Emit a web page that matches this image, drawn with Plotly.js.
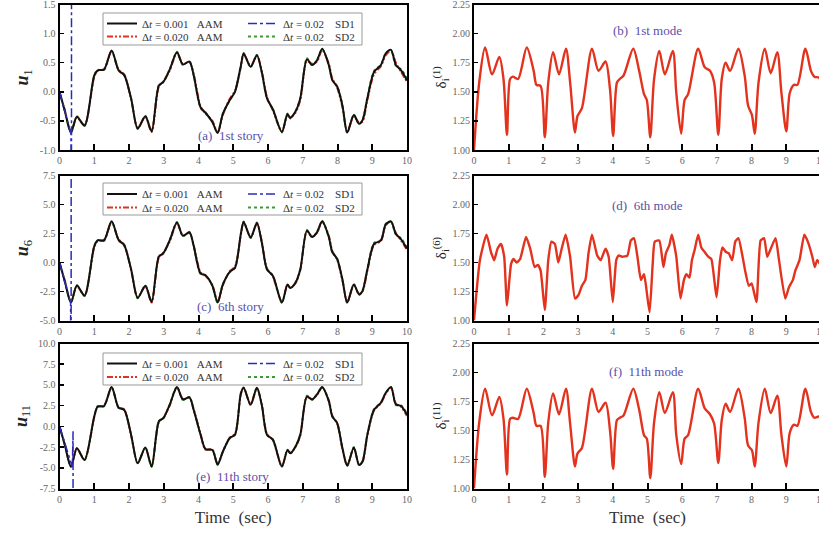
<!DOCTYPE html>
<html><head><meta charset="utf-8">
<script src="https://cdn.plot.ly/plotly-3.0.1.min.js"></script>
<style>html,body{margin:0;padding:0;overflow:hidden;background:#fff}</style>
</head><body><div id="chart" style="width:830px;height:537px"></div>
<script>
// ---------- data ----------
const timeStory = [0,0.15,0.33,0.5,0.72,1.0,1.1,1.28,1.5,1.7,
 1.86,2.06,2.25,2.47,2.65,2.86,2.99,3.17,3.38,3.55,
 3.74,3.86,4.06,4.2,4.4,4.55,4.7,4.9,5.05,5.22,
 5.3,5.5,5.68,5.82,5.97,6.14,6.4,6.56,6.64,6.79,
 6.93,7.12,7.27,7.41,7.56,7.75,7.85,7.99,8.14,8.28,
 8.47,8.62,8.72,8.86,9.05,9.25,9.39,9.54,9.68,9.83,10.0];

const u1_aam001 = [0.0,-0.32,-0.70,-0.43,-0.58,0.28,0.37,0.38,0.71,0.37,
 0.29,-0.11,-0.63,-0.42,-0.68,0.11,0.17,0.38,0.68,0.47,
 0.52,0.29,-0.27,-0.36,-0.52,-0.71,-0.38,-0.14,0.0,0.45,
 0.66,0.43,0.63,0.34,-0.11,-0.30,-0.69,-0.38,-0.45,-0.34,
 -0.11,0.56,0.46,0.54,0.74,0.46,0.20,0.09,-0.23,-0.70,
 -0.40,-0.55,-0.49,-0.11,0.34,0.46,0.66,0.72,0.46,0.37,0.20];
const u1_aam020 = [0.0,-0.31,-0.69,-0.44,-0.57,0.26,0.36,0.39,0.70,0.38,
 0.30,-0.13,-0.62,-0.43,-0.69,0.09,0.18,0.36,0.67,0.48,
 0.51,0.31,-0.25,-0.37,-0.50,-0.70,-0.40,-0.12,0.02,0.43,
 0.65,0.44,0.62,0.36,-0.09,-0.32,-0.68,-0.40,-0.44,-0.36,
 -0.14,0.53,0.48,0.52,0.72,0.48,0.23,0.07,-0.26,-0.68,
 -0.42,-0.53,-0.51,-0.14,0.30,0.44,0.63,0.70,0.50,0.34,0.17];
const u1_sd2 = [0.0,-0.33,-0.70,-0.42,-0.59,0.27,0.38,0.37,0.70,0.36,
 0.28,-0.12,-0.64,-0.41,-0.67,0.12,0.16,0.39,0.69,0.46,
 0.53,0.28,-0.28,-0.35,-0.53,-0.70,-0.37,-0.15,0.01,0.47,
 0.67,0.42,0.64,0.33,-0.12,-0.29,-0.70,-0.37,-0.46,-0.33,
 -0.10,0.58,0.45,0.55,0.73,0.45,0.21,0.10,-0.21,-0.71,
 -0.39,-0.56,-0.48,-0.09,0.36,0.47,0.67,0.70,0.44,0.39,0.24];
const t1_sd1 = [0,0.11,0.22,0.33,0.34,0.35];
const u1_sd1 = [0,-0.24,-0.48,-0.72,-50,50];

const u6_aam001 = [0.0,-1.6,-3.45,-1.98,-2.85,1.4,1.9,1.9,3.55,1.95,
 1.5,-0.58,-3.05,-2.0,-3.4,0.52,0.8,1.9,3.45,2.3,
 2.6,1.45,-0.95,-1.1,-2.0,-3.45,-1.9,-0.8,-0.45,2.5,
 3.5,2.15,3.4,1.75,-0.58,-1.15,-3.45,-1.9,-2.2,-1.75,
 -0.58,2.75,2.2,2.6,3.55,2.2,0.9,0.3,-1.45,-3.45,
 -1.9,-2.75,-2.45,-0.6,1.6,1.9,3.3,3.55,2.45,2.0,1.2];
const u6_aam020 = [0.0,-1.55,-3.4,-2.05,-2.8,1.3,1.85,1.95,3.5,2.0,
 1.55,-0.65,-3.0,-2.05,-3.45,0.45,0.85,1.8,3.4,2.35,
 2.55,1.5,-0.85,-1.15,-1.95,-3.4,-1.95,-0.75,-0.35,2.4,
 3.45,2.2,3.35,1.85,-0.5,-1.2,-3.4,-1.95,-2.15,-1.8,
 -0.65,2.65,2.25,2.55,3.5,2.3,1.0,0.25,-1.55,-3.4,
 -1.95,-2.7,-2.5,-0.7,1.5,1.85,3.2,3.5,2.55,1.9,1.05];
const u6_sd2 = [0.0,-1.65,-3.45,-1.95,-2.9,1.45,1.95,1.85,3.5,1.9,
 1.45,-0.55,-3.1,-1.95,-3.35,0.55,0.75,1.95,3.5,2.25,
 2.65,1.4,-1.0,-1.05,-2.05,-3.5,-1.85,-0.85,-0.5,2.55,
 3.55,2.1,3.45,1.7,-0.6,-1.1,-3.5,-1.85,-2.25,-1.7,
 -0.55,2.8,2.15,2.65,3.6,2.15,0.85,0.35,-1.4,-3.5,
 -1.85,-2.8,-2.4,-0.5,1.7,1.95,3.35,3.5,2.4,2.1,1.3];
const t6_sd1 = [0,0.11,0.22,0.32,0.33,0.34];
const u6_sd1 = [0,-1.2,-2.4,-3.45,-200,200];

const u11_aam001 = [0.0,-2.2,-4.86,-2.65,-4.05,1.2,2.4,2.45,4.75,2.25,
 2.0,-1.0,-4.45,-2.55,-4.85,0.6,1.0,2.6,4.75,3.25,
 3.5,2.0,-1.0,-2.75,-2.85,-4.6,-3.05,-1.4,-1.0,4.0,
 4.65,2.6,4.65,2.6,-1.0,-1.6,-4.85,-2.85,-3.25,-2.45,
 -1.0,3.6,3.25,3.85,4.75,3.05,1.2,0.4,-2.6,-4.75,
 -2.55,-4.65,-4.25,-1.0,2.0,2.85,4.05,4.75,2.65,2.45,1.4];
const u11_aam020 = [0.0,-2.15,-4.8,-2.7,-4.0,1.1,2.35,2.5,4.7,2.3,
 2.05,-1.1,-4.4,-2.6,-4.8,0.5,1.05,2.5,4.7,3.3,
 3.45,2.1,-0.9,-2.8,-2.8,-4.55,-3.1,-1.35,-0.9,3.9,
 4.6,2.7,4.6,2.7,-0.9,-1.65,-4.8,-2.9,-3.2,-2.5,
 -1.1,3.5,3.3,3.8,4.7,3.15,1.3,0.35,-2.7,-4.7,
 -2.6,-4.6,-4.3,-1.1,1.9,2.8,3.95,4.7,2.75,2.35,1.25];
const u11_sd2 = [0.0,-2.25,-4.9,-2.6,-4.1,1.25,2.45,2.4,4.7,2.2,
 1.95,-0.95,-4.5,-2.5,-4.9,0.65,0.95,2.65,4.8,3.2,
 3.55,1.95,-1.05,-2.7,-2.9,-4.65,-3.0,-1.45,-1.05,4.1,
 4.7,2.55,4.7,2.5,-1.05,-1.55,-4.9,-2.8,-3.3,-2.4,
 -0.95,3.7,3.2,3.9,4.7,3.0,1.15,0.45,-2.5,-4.8,
 -2.5,-4.7,-4.2,-0.9,2.1,2.9,4.1,4.7,2.55,2.55,1.55];
const t11_sd1 = [0,0.13,0.26,0.37,0.39,0.40];
const u11_sd1 = [0,-1.7,-3.4,-4.9,-0.6,-300];

const timeMode = [0,0.15,0.32,0.52,0.73,0.85,0.95,1.04,1.12,1.27,
 1.52,1.72,1.8,1.92,2.04,2.14,2.28,2.45,2.65,2.77,
 2.91,2.98,3.11,3.4,3.59,3.79,3.92,4.01,4.12,4.2,
 4.31,4.59,4.76,4.9,4.98,5.08,5.19,5.34,5.5,5.73,
 5.83,5.97,6.07,6.17,6.46,6.65,6.8,6.92,7.04,7.14,
 7.25,7.38,7.62,7.8,7.9,8.01,8.09,8.2,8.38,8.55,
 8.74,8.86,9.0,9.1,9.22,9.32,9.55,9.71,9.81,9.95,10.0];
const delta1 = [1.0,1.58,1.88,1.65,1.80,1.61,1.13,1.61,1.63,1.61,
 1.88,1.68,1.56,1.55,1.11,1.58,1.84,1.65,1.87,1.58,
 1.15,1.29,1.36,1.87,1.68,1.76,1.52,1.12,1.58,1.61,
 1.64,1.87,1.68,1.48,1.43,1.11,1.61,1.85,1.65,1.85,
 1.49,1.14,1.43,1.48,1.87,1.71,1.68,1.58,1.13,1.61,
 1.75,1.68,1.87,1.64,1.38,1.30,1.14,1.58,1.87,1.66,
 1.84,1.49,1.16,1.49,1.56,1.56,1.87,1.68,1.63,1.62,1.45];
const delta11 = [1.0,1.57,1.86,1.63,1.79,1.60,1.12,1.60,1.61,1.60,
 1.86,1.65,1.54,1.54,1.10,1.57,1.82,1.64,1.86,1.56,
 1.19,1.30,1.35,1.86,1.66,1.74,1.50,1.17,1.59,1.61,
 1.63,1.86,1.68,1.46,1.43,1.09,1.57,1.83,1.65,1.83,
 1.46,1.21,1.43,1.46,1.86,1.69,1.64,1.56,1.22,1.59,
 1.73,1.66,1.86,1.61,1.37,1.33,1.19,1.57,1.86,1.65,
 1.80,1.46,1.19,1.48,1.55,1.54,1.86,1.66,1.61,1.62,1.40];
const timeMode6 = [0,0.17,0.36,0.49,0.58,0.68,0.78,0.87,0.95,1.07,
 1.14,1.23,1.33,1.5,1.62,1.75,1.84,1.92,2.04,2.14,
 2.23,2.33,2.43,2.52,2.64,2.77,2.91,3.01,3.11,3.21,
 3.3,3.4,3.55,3.65,3.79,3.88,4.0,4.1,4.17,4.27,
 4.42,4.52,4.61,4.71,4.81,4.9,4.96,5.06,5.15,5.21,
 5.34,5.46,5.53,5.63,5.7,5.83,5.95,6.05,6.12,6.21,
 6.28,6.36,6.46,6.55,6.65,6.75,6.84,6.99,7.09,7.16,
 7.26,7.34,7.44,7.53,7.62,7.74,7.82,7.92,8.0,8.14,
 8.26,8.36,8.45,8.54,8.69,8.79,8.97,9.08,9.19,9.26,
 9.38,9.52,9.62,9.75,9.82,9.89,9.98,10.0];
const delta6 = [1.0,1.52,1.74,1.59,1.52,1.62,1.66,1.55,1.13,1.49,
 1.53,1.50,1.53,1.72,1.62,1.46,1.48,1.43,1.09,1.52,
 1.68,1.66,1.50,1.61,1.74,1.55,1.19,1.22,1.30,1.35,
 1.58,1.74,1.56,1.52,1.62,1.55,1.16,1.52,1.56,1.55,
 1.56,1.69,1.71,1.55,1.35,1.40,1.29,1.07,1.49,1.68,
 1.69,1.46,1.58,1.65,1.74,1.55,1.19,1.35,1.40,1.37,
 1.52,1.61,1.74,1.63,1.59,1.55,1.53,1.20,1.52,1.63,
 1.59,1.58,1.52,1.68,1.71,1.55,1.42,1.30,1.32,1.16,
 1.69,1.71,1.55,1.61,1.71,1.52,1.19,1.29,1.35,1.43,
 1.52,1.74,1.68,1.55,1.46,1.52,1.48,1.45];

const seriesNames = ['Δ<i>t</i> = 0.001\u00a0\u00a0\u00a0AAM','Δ<i>t</i> = 0.02\u00a0\u00a0\u00a0\u00a0SD1',
                     'Δ<i>t</i> = 0.020\u00a0\u00a0\u00a0AAM','Δ<i>t</i> = 0.02\u00a0\u00a0\u00a0\u00a0SD2'];
const storyLabels = ['(a)\u00a0\u00a01st story','(c)\u00a0\u00a06th story','(e)\u00a0\u00a011th story'];
const modeLabels = ['(b)\u00a0\u00a01st mode','(d)\u00a0\u00a06th mode','(f)\u00a0\u00a011th mode'];
const storyTitles = ['1','6','11'];
const modeTitles = ['(1)','(6)','(11)'];
const ticksU1 = [-1.0,-0.5,0.0,0.5,1.0,1.5];
const ticksU6 = [-5.0,-2.5,0.0,2.5,5.0,7.5];
const ticksU11 = [-7.5,-5.0,-2.5,0.0,2.5,5.0,7.5,10.0];
const ticksDelta = [1.00,1.25,1.50,1.75,2.00,2.25];
const timeTicks = [0,1,2,3,4,5,6,7,8,9,10];

// ---------- figure ----------
const W = 830, H = 537;
const px = x => x / W, py = y => 1 - y / H;
const SERIF = 'Liberation Serif, Times New Roman, serif';
const legId = n => n === 1 ? 'legend' : 'legend' + n;

const stories = [
  {t:timeStory, black:u1_aam001, red:u1_aam020, green:u1_sd2, tsd1:t1_sd1, sd1:u1_sd1, ticks:ticksU1, range:[-1,1.5], dec:1},
  {t:timeStory, black:u6_aam001, red:u6_aam020, green:u6_sd2, tsd1:t6_sd1, sd1:u6_sd1, ticks:ticksU6, range:[-5,7.5], dec:1},
  {t:timeStory, black:u11_aam001, red:u11_aam020, green:u11_sd2, tsd1:t11_sd1, sd1:u11_sd1, ticks:ticksU11, range:[-7.5,10], dec:1}
];
const modes = [
  {t:timeMode, v:delta1, smooth:0.8},
  {t:timeMode6, v:delta6, smooth:0.5},
  {t:timeMode, v:delta11, smooth:0.8}
];

const rowsPx = [[4.5,150],[175.5,320.5],[343.5,488.5]];
const leftPx = [59.5,407], rightPx = [474,821];
const legRowTop = [[9,22],[179.5,193],[349,362.5]];
const legColLeft = [102,243];
const legBox = [[13,45],[183,215],[353,385]];
const storyLabelPos = [[231,136],[230,306],[232,476]];
const modeLabelPos = [[647,31],[647,205],[646,371]];

const traces = [];
const layout = {
  width: W, height: H, margin:{l:0,r:0,t:0,b:0},
  paper_bgcolor:'#fff', plot_bgcolor:'#fff',
  font:{family:SERIF, color:'#333'},
  showlegend:true, shapes:[], annotations:[]
};

function xAxis(domain, anchor, withTitle){
  const a = {domain:domain, anchor:anchor, range:[0,10], tickvals:timeTicks,
    ticks:'inside', ticklen:6, tickwidth:2, tickcolor:'#000',
    showline:true, linewidth:2, linecolor:'#000', mirror:true,
    showgrid:false, zeroline:false, automargin:false, ticklabeloverflow:'allow',
    tickfont:{family:SERIF, size:10, color:'#666'}};
  if(withTitle) a.title = {text:'Time\u00a0\u00a0(sec)', font:{family:SERIF, size:17, color:'#333'}, standoff:8};
  return a;
}
function yAxis(domain, anchor, range, ticks, dec, title, tsize, standoff){
  return {domain:domain, anchor:anchor, range:range, tickvals:ticks,
    ticktext:ticks.map(v => v.toFixed(dec)),
    ticks:'inside', ticklen:4, tickwidth:1.5, tickcolor:'#000',
    showline:true, linewidth:2, linecolor:'#000', mirror:true,
    showgrid:false, zeroline:false, automargin:false, ticklabeloverflow:'allow',
    tickfont:{family:SERIF, size:10, color:'#666'},
    title:{text:title, font:{family:SERIF, size:tsize, color:'#222'}, standoff:standoff}};
}

stories.forEach((s, p) => {
  const xi = 2*p + 1;
  const xn = xi === 1 ? '' : String(xi);
  const xa = 'x' + xn, ya = 'y' + xn;
  const dom = [py(rowsPx[p][1]), py(rowsPx[p][0])];
  layout['xaxis' + xn] = xAxis([px(leftPx[0]), px(leftPx[1])], ya, p === 2);
  layout['yaxis' + xn] = yAxis(dom, xa, s.range, s.ticks, s.dec,
      '<b><i>u</i></b><sub>' + storyTitles[p] + '</sub>', 18, 6);
  const base = p*4;
  traces.push({x:s.t, y:s.red, xaxis:xa, yaxis:ya, mode:'lines', name:seriesNames[2], legend:legId(base+3),
    line:{color:'#e0321e', width:2, dash:'6px,2px,2px,2px,2px,2px', shape:'spline', smoothing:0.8}});
  traces.push({x:s.t, y:s.green, xaxis:xa, yaxis:ya, mode:'lines', name:seriesNames[3], legend:legId(base+4),
    line:{color:'#3c9a3c', width:1.8, dash:'dot', shape:'spline', smoothing:0.8}});
  traces.push({x:s.t, y:s.black, xaxis:xa, yaxis:ya, mode:'lines', name:seriesNames[0], legend:legId(base+1),
    line:{color:'#111', width:2, shape:'spline', smoothing:0.8}});
  traces.push({x:s.tsd1, y:s.sd1, xaxis:xa, yaxis:ya, mode:'lines', name:seriesNames[1], legend:legId(base+2),
    line:{color:'#2b2bb8', width:1.5, dash:'dashdot'}});
  const cells = [[0,0],[0,1],[1,0],[1,1]]; // black, blue, red, green
  cells.forEach((c, k) => {
    layout[legId(base+k+1)] = {x:px(legColLeft[c[1]]), y:py(legRowTop[p][c[0]]), xref:'paper', yref:'paper',
      xanchor:'left', yanchor:'top', orientation:'v', bgcolor:'rgba(0,0,0,0)', borderwidth:0,
      itemwidth:30, font:{family:SERIF, size:11, color:'#333'}};
  });
  layout.shapes.push({type:'rect', xref:'paper', yref:'paper', x0:px(103), x1:px(362),
    y0:py(legBox[p][1]), y1:py(legBox[p][0]), line:{color:'#999', width:1}});
  layout.annotations.push({xref:'paper', yref:'paper', x:px(storyLabelPos[p][0]), y:py(storyLabelPos[p][1]),
    text:storyLabels[p], showarrow:false, xanchor:'center', yanchor:'middle',
    font:{family:SERIF, size:13, color:'#5a4fa8'}});
});

modes.forEach((m, p) => {
  const xi = 2*p + 2;
  const xn = String(xi);
  const xa = 'x' + xn, ya = 'y' + xn;
  const dom = [py(rowsPx[p][1]), py(rowsPx[p][0])];
  layout['xaxis' + xn] = xAxis([px(rightPx[0]), px(rightPx[1])], ya, p === 2);
  layout['yaxis' + xn] = yAxis(dom, xa, [1.0,2.25], ticksDelta, 2,
      'δ<sub>i</sub><sup>' + modeTitles[p] + '</sup>', 15, 2);
  traces.push({x:m.t, y:m.v, xaxis:xa, yaxis:ya, mode:'lines', showlegend:false,
    line:{color:'#e3321d', width:2.4, shape:'spline', smoothing:m.smooth}});
  layout.annotations.push({xref:'paper', yref:'paper', x:px(modeLabelPos[p][0]), y:py(modeLabelPos[p][1]),
    text:modeLabels[p], showarrow:false, xanchor:'center', yanchor:'middle',
    font:{family:SERIF, size:13, color:'#5a4fa8'}});
});

Plotly.newPlot('chart', traces, layout, {displayModeBar:false, staticPlot:true});
</script></body></html>
